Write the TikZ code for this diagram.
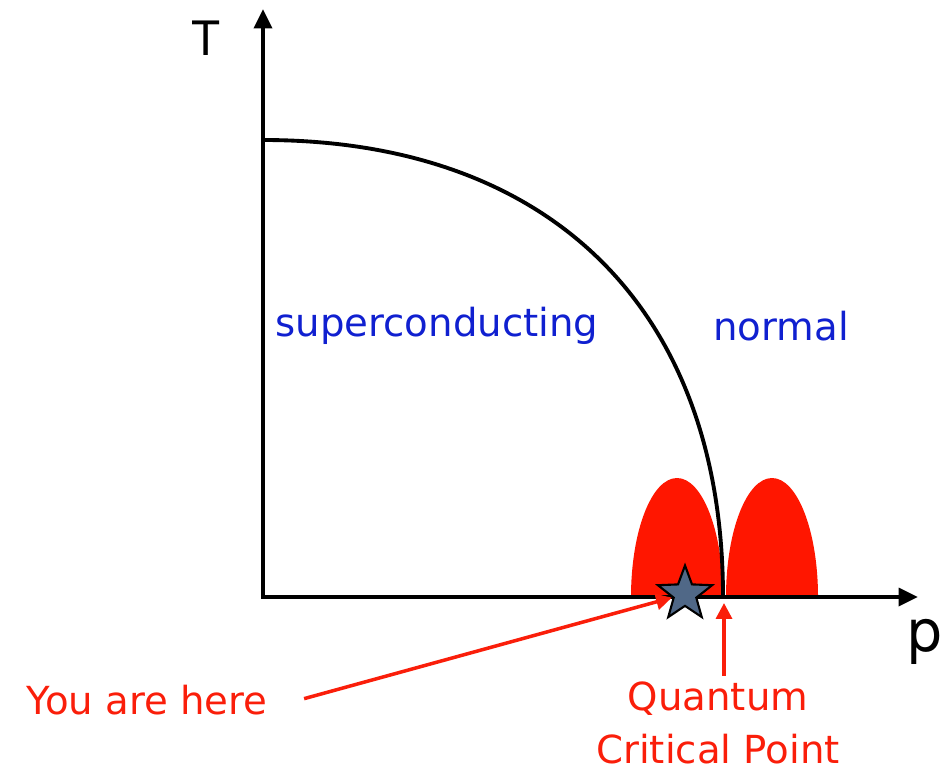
\documentclass[tikz,border=0pt]{standalone}
\usepackage{fontspec}
\setmainfont{DejaVu Sans}
\newfontfamily\axisfont{TeX Gyre Heros}
\usetikzlibrary{arrows.meta,shapes.geometric}
\definecolor{domered}{RGB}{255,22,0}
\definecolor{phaseblue}{RGB}{16,32,208}
\definecolor{notered}{RGB}{250,30,10}
\definecolor{starblue}{RGB}{80,104,135}

\begin{document}
\begin{tikzpicture}[x=0.02cm,y=-0.02cm,
  axis/.style={line width=2.6pt,{Triangle[length=11pt,width=10pt]}-{Triangle[length=11pt,width=10pt]}},
  pointer/.style={draw=notered,line width=2pt,-{Triangle[length=9pt,width=9pt]}},
  phase/.style={text=phaseblue,font=\fontsize{22}{26}\selectfont},
  note/.style={text=notered,font=\fontsize{22}{30}\selectfont,align=center}]
\useasboundingbox (0,0) rectangle (942,774);
\coordinate (origin) at (263,597);
\coordinate (tmax) at (263,9);
\coordinate (pmax) at (918,597);
\coordinate (tc) at (263,140);
\coordinate (qcp) at (723,597);
\coordinate (qcptip) at (724,603);
% the two domes around the critical point
\begin{scope}
\clip (600,400) rectangle (850,597);
\fill[domered] (677,597) ellipse[x radius=46,y radius=119];
\fill[domered] (772,597) ellipse[x radius=46,y radius=119];
\end{scope}
% phase boundary
\draw[line width=2.2pt] (tc) .. controls (551,140) and (723,310) .. (qcp);
\draw[axis] (tmax) -- (origin) -- (pmax);
\node[font=\axisfont\fontsize{27}{30}\selectfont] (tlabel) at (206,38) {T};
\node[font=\axisfont\fontsize{34}{36}\selectfont,anchor=base west,inner sep=0] (plabel) at (908,651) {p};
\node[phase] (sc) at (437,326) {superconducting};
\node[phase] (normal) at (781,326) {normal};
\node[star,star points=5,star point ratio=2.4,minimum size=1.14cm,inner sep=0,
  fill=starblue,draw=black,line width=1.2pt] (star) at (685,594) {};
% labels below the axis
\node[note] (here) at (147,700) {You are here};
\node[note] (qcpnote) at (718,723) {Quantum\\Critical Point};
\draw[pointer,shorten <=18pt] ([yshift=-4pt]here.east) -- (star);
\draw[pointer] (qcpnote.north -| qcptip) -- (qcptip);
\end{tikzpicture}
\end{document}
